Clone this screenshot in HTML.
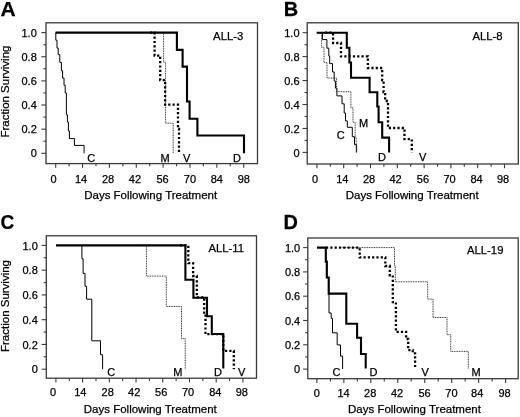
<!DOCTYPE html>
<html><head><meta charset="utf-8"><style>
html,body{margin:0;padding:0;background:#fff;}
svg{display:block;filter:blur(0.35px);}
text{font-family:"Liberation Sans", sans-serif;fill:#000;stroke:#000;stroke-width:0.25px;}
.t{font-size:11px;}
.ax{font-size:11.5px;}
.ay{font-size:11.5px;}
.pl{font-size:21px;font-weight:bold;fill:#000;}
.cl{font-size:11.3px;}
.cv{font-size:11px;}
</style></head><body>
<svg width="520" height="417" viewBox="0 0 520 417">
<rect width="520" height="417" fill="#fff"/>
<rect x="46" y="22.8" width="211.50" height="140.80" fill="none" stroke="#3a3a3a" stroke-width="1.3"/>
<line x1="41.30" y1="153.30" x2="46" y2="153.30" stroke="#3a3a3a" stroke-width="1.1"/>
<line x1="43.40" y1="141.23" x2="46" y2="141.23" stroke="#3a3a3a" stroke-width="1.1"/>
<line x1="41.30" y1="129.16" x2="46" y2="129.16" stroke="#3a3a3a" stroke-width="1.1"/>
<line x1="43.40" y1="117.09" x2="46" y2="117.09" stroke="#3a3a3a" stroke-width="1.1"/>
<line x1="41.30" y1="105.02" x2="46" y2="105.02" stroke="#3a3a3a" stroke-width="1.1"/>
<line x1="43.40" y1="92.95" x2="46" y2="92.95" stroke="#3a3a3a" stroke-width="1.1"/>
<line x1="41.30" y1="80.88" x2="46" y2="80.88" stroke="#3a3a3a" stroke-width="1.1"/>
<line x1="43.40" y1="68.81" x2="46" y2="68.81" stroke="#3a3a3a" stroke-width="1.1"/>
<line x1="41.30" y1="56.74" x2="46" y2="56.74" stroke="#3a3a3a" stroke-width="1.1"/>
<line x1="43.40" y1="44.67" x2="46" y2="44.67" stroke="#3a3a3a" stroke-width="1.1"/>
<line x1="41.30" y1="32.60" x2="46" y2="32.60" stroke="#3a3a3a" stroke-width="1.1"/>
<text x="36.80" y="157.40" text-anchor="end" class="t">0</text>
<text x="36.80" y="133.26" text-anchor="end" class="t">0.2</text>
<text x="36.80" y="109.12" text-anchor="end" class="t">0.4</text>
<text x="36.80" y="84.98" text-anchor="end" class="t">0.6</text>
<text x="36.80" y="60.84" text-anchor="end" class="t">0.8</text>
<text x="36.80" y="36.70" text-anchor="end" class="t">1.0</text>
<line x1="55.70" y1="163.6" x2="55.70" y2="167.80" stroke="#3a3a3a" stroke-width="1.1"/>
<line x1="69.13" y1="163.6" x2="69.13" y2="166.30" stroke="#3a3a3a" stroke-width="1.1"/>
<line x1="82.56" y1="163.6" x2="82.56" y2="167.80" stroke="#3a3a3a" stroke-width="1.1"/>
<line x1="95.99" y1="163.6" x2="95.99" y2="166.30" stroke="#3a3a3a" stroke-width="1.1"/>
<line x1="109.41" y1="163.6" x2="109.41" y2="167.80" stroke="#3a3a3a" stroke-width="1.1"/>
<line x1="122.84" y1="163.6" x2="122.84" y2="166.30" stroke="#3a3a3a" stroke-width="1.1"/>
<line x1="136.27" y1="163.6" x2="136.27" y2="167.80" stroke="#3a3a3a" stroke-width="1.1"/>
<line x1="149.70" y1="163.6" x2="149.70" y2="166.30" stroke="#3a3a3a" stroke-width="1.1"/>
<line x1="163.13" y1="163.6" x2="163.13" y2="167.80" stroke="#3a3a3a" stroke-width="1.1"/>
<line x1="176.56" y1="163.6" x2="176.56" y2="166.30" stroke="#3a3a3a" stroke-width="1.1"/>
<line x1="189.99" y1="163.6" x2="189.99" y2="167.80" stroke="#3a3a3a" stroke-width="1.1"/>
<line x1="203.41" y1="163.6" x2="203.41" y2="166.30" stroke="#3a3a3a" stroke-width="1.1"/>
<line x1="216.84" y1="163.6" x2="216.84" y2="167.80" stroke="#3a3a3a" stroke-width="1.1"/>
<line x1="230.27" y1="163.6" x2="230.27" y2="166.30" stroke="#3a3a3a" stroke-width="1.1"/>
<line x1="243.70" y1="163.6" x2="243.70" y2="167.80" stroke="#3a3a3a" stroke-width="1.1"/>
<text x="53.50" y="182.50" text-anchor="middle" class="t">0</text>
<text x="81.10" y="182.50" text-anchor="middle" class="t">14</text>
<text x="108.10" y="182.50" text-anchor="middle" class="t">28</text>
<text x="134.90" y="182.50" text-anchor="middle" class="t">42</text>
<text x="162.60" y="182.50" text-anchor="middle" class="t">56</text>
<text x="189.90" y="182.50" text-anchor="middle" class="t">70</text>
<text x="216.80" y="182.50" text-anchor="middle" class="t">84</text>
<text x="243.80" y="182.50" text-anchor="middle" class="t">98</text>
<text x="84.20" y="199.40" class="ax">Days Following Treatment</text>
<text transform="translate(9.40,91.60) rotate(-90)" x="0" y="0" text-anchor="middle" class="ay">Fraction Surviving</text>
<text transform="translate(0.5,15.9) scale(1.0,1)" class="pl">A</text>
<text x="213.1" y="40.0" class="cl">ALL-3</text>
<rect x="307.2" y="22.8" width="211.10" height="141.20" fill="none" stroke="#3a3a3a" stroke-width="1.3"/>
<line x1="302.50" y1="152.40" x2="307.2" y2="152.40" stroke="#3a3a3a" stroke-width="1.1"/>
<line x1="304.60" y1="140.43" x2="307.2" y2="140.43" stroke="#3a3a3a" stroke-width="1.1"/>
<line x1="302.50" y1="128.46" x2="307.2" y2="128.46" stroke="#3a3a3a" stroke-width="1.1"/>
<line x1="304.60" y1="116.49" x2="307.2" y2="116.49" stroke="#3a3a3a" stroke-width="1.1"/>
<line x1="302.50" y1="104.52" x2="307.2" y2="104.52" stroke="#3a3a3a" stroke-width="1.1"/>
<line x1="304.60" y1="92.55" x2="307.2" y2="92.55" stroke="#3a3a3a" stroke-width="1.1"/>
<line x1="302.50" y1="80.58" x2="307.2" y2="80.58" stroke="#3a3a3a" stroke-width="1.1"/>
<line x1="304.60" y1="68.61" x2="307.2" y2="68.61" stroke="#3a3a3a" stroke-width="1.1"/>
<line x1="302.50" y1="56.64" x2="307.2" y2="56.64" stroke="#3a3a3a" stroke-width="1.1"/>
<line x1="304.60" y1="44.67" x2="307.2" y2="44.67" stroke="#3a3a3a" stroke-width="1.1"/>
<line x1="302.50" y1="32.70" x2="307.2" y2="32.70" stroke="#3a3a3a" stroke-width="1.1"/>
<text x="299.50" y="156.50" text-anchor="end" class="t">0</text>
<text x="299.50" y="132.56" text-anchor="end" class="t">0.2</text>
<text x="299.50" y="108.62" text-anchor="end" class="t">0.4</text>
<text x="299.50" y="84.68" text-anchor="end" class="t">0.6</text>
<text x="299.50" y="60.74" text-anchor="end" class="t">0.8</text>
<text x="299.50" y="36.80" text-anchor="end" class="t">1.0</text>
<line x1="316.90" y1="164.0" x2="316.90" y2="168.20" stroke="#3a3a3a" stroke-width="1.1"/>
<line x1="330.30" y1="164.0" x2="330.30" y2="166.70" stroke="#3a3a3a" stroke-width="1.1"/>
<line x1="343.70" y1="164.0" x2="343.70" y2="168.20" stroke="#3a3a3a" stroke-width="1.1"/>
<line x1="357.10" y1="164.0" x2="357.10" y2="166.70" stroke="#3a3a3a" stroke-width="1.1"/>
<line x1="370.50" y1="164.0" x2="370.50" y2="168.20" stroke="#3a3a3a" stroke-width="1.1"/>
<line x1="383.90" y1="164.0" x2="383.90" y2="166.70" stroke="#3a3a3a" stroke-width="1.1"/>
<line x1="397.30" y1="164.0" x2="397.30" y2="168.20" stroke="#3a3a3a" stroke-width="1.1"/>
<line x1="410.70" y1="164.0" x2="410.70" y2="166.70" stroke="#3a3a3a" stroke-width="1.1"/>
<line x1="424.10" y1="164.0" x2="424.10" y2="168.20" stroke="#3a3a3a" stroke-width="1.1"/>
<line x1="437.50" y1="164.0" x2="437.50" y2="166.70" stroke="#3a3a3a" stroke-width="1.1"/>
<line x1="450.90" y1="164.0" x2="450.90" y2="168.20" stroke="#3a3a3a" stroke-width="1.1"/>
<line x1="464.30" y1="164.0" x2="464.30" y2="166.70" stroke="#3a3a3a" stroke-width="1.1"/>
<line x1="477.70" y1="164.0" x2="477.70" y2="168.20" stroke="#3a3a3a" stroke-width="1.1"/>
<line x1="491.10" y1="164.0" x2="491.10" y2="166.70" stroke="#3a3a3a" stroke-width="1.1"/>
<line x1="504.50" y1="164.0" x2="504.50" y2="168.20" stroke="#3a3a3a" stroke-width="1.1"/>
<text x="315.00" y="182.50" text-anchor="middle" class="t">0</text>
<text x="342.30" y="182.50" text-anchor="middle" class="t">14</text>
<text x="369.10" y="182.50" text-anchor="middle" class="t">28</text>
<text x="395.50" y="182.50" text-anchor="middle" class="t">42</text>
<text x="422.90" y="182.50" text-anchor="middle" class="t">56</text>
<text x="449.60" y="182.50" text-anchor="middle" class="t">70</text>
<text x="476.50" y="182.50" text-anchor="middle" class="t">84</text>
<text x="503.00" y="182.50" text-anchor="middle" class="t">98</text>
<text x="345.70" y="199.40" class="ax">Days Following Treatment</text>
<text transform="translate(283.8,16.0) scale(0.95,1)" class="pl">B</text>
<text x="472.5" y="40.0" class="cl">ALL-8</text>
<rect x="46.3" y="235.8" width="210.20" height="142.40" fill="none" stroke="#3a3a3a" stroke-width="1.3"/>
<line x1="41.60" y1="369.20" x2="46.3" y2="369.20" stroke="#3a3a3a" stroke-width="1.1"/>
<line x1="43.70" y1="356.82" x2="46.3" y2="356.82" stroke="#3a3a3a" stroke-width="1.1"/>
<line x1="41.60" y1="344.44" x2="46.3" y2="344.44" stroke="#3a3a3a" stroke-width="1.1"/>
<line x1="43.70" y1="332.06" x2="46.3" y2="332.06" stroke="#3a3a3a" stroke-width="1.1"/>
<line x1="41.60" y1="319.68" x2="46.3" y2="319.68" stroke="#3a3a3a" stroke-width="1.1"/>
<line x1="43.70" y1="307.30" x2="46.3" y2="307.30" stroke="#3a3a3a" stroke-width="1.1"/>
<line x1="41.60" y1="294.92" x2="46.3" y2="294.92" stroke="#3a3a3a" stroke-width="1.1"/>
<line x1="43.70" y1="282.54" x2="46.3" y2="282.54" stroke="#3a3a3a" stroke-width="1.1"/>
<line x1="41.60" y1="270.16" x2="46.3" y2="270.16" stroke="#3a3a3a" stroke-width="1.1"/>
<line x1="43.70" y1="257.78" x2="46.3" y2="257.78" stroke="#3a3a3a" stroke-width="1.1"/>
<line x1="41.60" y1="245.40" x2="46.3" y2="245.40" stroke="#3a3a3a" stroke-width="1.1"/>
<text x="37.80" y="373.30" text-anchor="end" class="t">0</text>
<text x="37.80" y="348.54" text-anchor="end" class="t">0.2</text>
<text x="37.80" y="323.78" text-anchor="end" class="t">0.4</text>
<text x="37.80" y="299.02" text-anchor="end" class="t">0.6</text>
<text x="37.80" y="274.26" text-anchor="end" class="t">0.8</text>
<text x="37.80" y="249.50" text-anchor="end" class="t">1.0</text>
<line x1="55.90" y1="378.2" x2="55.90" y2="382.40" stroke="#3a3a3a" stroke-width="1.1"/>
<line x1="69.26" y1="378.2" x2="69.26" y2="380.90" stroke="#3a3a3a" stroke-width="1.1"/>
<line x1="82.61" y1="378.2" x2="82.61" y2="382.40" stroke="#3a3a3a" stroke-width="1.1"/>
<line x1="95.97" y1="378.2" x2="95.97" y2="380.90" stroke="#3a3a3a" stroke-width="1.1"/>
<line x1="109.33" y1="378.2" x2="109.33" y2="382.40" stroke="#3a3a3a" stroke-width="1.1"/>
<line x1="122.69" y1="378.2" x2="122.69" y2="380.90" stroke="#3a3a3a" stroke-width="1.1"/>
<line x1="136.04" y1="378.2" x2="136.04" y2="382.40" stroke="#3a3a3a" stroke-width="1.1"/>
<line x1="149.40" y1="378.2" x2="149.40" y2="380.90" stroke="#3a3a3a" stroke-width="1.1"/>
<line x1="162.76" y1="378.2" x2="162.76" y2="382.40" stroke="#3a3a3a" stroke-width="1.1"/>
<line x1="176.11" y1="378.2" x2="176.11" y2="380.90" stroke="#3a3a3a" stroke-width="1.1"/>
<line x1="189.47" y1="378.2" x2="189.47" y2="382.40" stroke="#3a3a3a" stroke-width="1.1"/>
<line x1="202.83" y1="378.2" x2="202.83" y2="380.90" stroke="#3a3a3a" stroke-width="1.1"/>
<line x1="216.19" y1="378.2" x2="216.19" y2="382.40" stroke="#3a3a3a" stroke-width="1.1"/>
<line x1="229.54" y1="378.2" x2="229.54" y2="380.90" stroke="#3a3a3a" stroke-width="1.1"/>
<line x1="242.90" y1="378.2" x2="242.90" y2="382.40" stroke="#3a3a3a" stroke-width="1.1"/>
<text x="53.10" y="396.30" text-anchor="middle" class="t">0</text>
<text x="80.30" y="396.30" text-anchor="middle" class="t">14</text>
<text x="107.70" y="396.30" text-anchor="middle" class="t">28</text>
<text x="134.20" y="396.30" text-anchor="middle" class="t">42</text>
<text x="161.20" y="396.30" text-anchor="middle" class="t">56</text>
<text x="188.10" y="396.30" text-anchor="middle" class="t">70</text>
<text x="215.30" y="396.30" text-anchor="middle" class="t">84</text>
<text x="241.85" y="396.30" text-anchor="middle" class="t">98</text>
<text x="83.80" y="412.90" class="ax">Days Following Treatment</text>
<text transform="translate(9.40,306.00) rotate(-90)" x="0" y="0" text-anchor="middle" class="ay">Fraction Surviving</text>
<text transform="translate(0.4,228.7) scale(0.91,1)" class="pl">C</text>
<text x="208.5" y="251.9" class="cl">ALL-11</text>
<rect x="307.8" y="238.0" width="210.40" height="140.70" fill="none" stroke="#3a3a3a" stroke-width="1.3"/>
<line x1="303.10" y1="369.10" x2="307.8" y2="369.10" stroke="#3a3a3a" stroke-width="1.1"/>
<line x1="305.20" y1="356.95" x2="307.8" y2="356.95" stroke="#3a3a3a" stroke-width="1.1"/>
<line x1="303.10" y1="344.80" x2="307.8" y2="344.80" stroke="#3a3a3a" stroke-width="1.1"/>
<line x1="305.20" y1="332.65" x2="307.8" y2="332.65" stroke="#3a3a3a" stroke-width="1.1"/>
<line x1="303.10" y1="320.50" x2="307.8" y2="320.50" stroke="#3a3a3a" stroke-width="1.1"/>
<line x1="305.20" y1="308.35" x2="307.8" y2="308.35" stroke="#3a3a3a" stroke-width="1.1"/>
<line x1="303.10" y1="296.20" x2="307.8" y2="296.20" stroke="#3a3a3a" stroke-width="1.1"/>
<line x1="305.20" y1="284.05" x2="307.8" y2="284.05" stroke="#3a3a3a" stroke-width="1.1"/>
<line x1="303.10" y1="271.90" x2="307.8" y2="271.90" stroke="#3a3a3a" stroke-width="1.1"/>
<line x1="305.20" y1="259.75" x2="307.8" y2="259.75" stroke="#3a3a3a" stroke-width="1.1"/>
<line x1="303.10" y1="247.60" x2="307.8" y2="247.60" stroke="#3a3a3a" stroke-width="1.1"/>
<text x="300.20" y="373.20" text-anchor="end" class="t">0</text>
<text x="300.20" y="348.90" text-anchor="end" class="t">0.2</text>
<text x="300.20" y="324.60" text-anchor="end" class="t">0.4</text>
<text x="300.20" y="300.30" text-anchor="end" class="t">0.6</text>
<text x="300.20" y="276.00" text-anchor="end" class="t">0.8</text>
<text x="300.20" y="251.70" text-anchor="end" class="t">1.0</text>
<line x1="316.90" y1="378.7" x2="316.90" y2="382.90" stroke="#3a3a3a" stroke-width="1.1"/>
<line x1="330.38" y1="378.7" x2="330.38" y2="381.40" stroke="#3a3a3a" stroke-width="1.1"/>
<line x1="343.86" y1="378.7" x2="343.86" y2="382.90" stroke="#3a3a3a" stroke-width="1.1"/>
<line x1="357.34" y1="378.7" x2="357.34" y2="381.40" stroke="#3a3a3a" stroke-width="1.1"/>
<line x1="370.81" y1="378.7" x2="370.81" y2="382.90" stroke="#3a3a3a" stroke-width="1.1"/>
<line x1="384.29" y1="378.7" x2="384.29" y2="381.40" stroke="#3a3a3a" stroke-width="1.1"/>
<line x1="397.77" y1="378.7" x2="397.77" y2="382.90" stroke="#3a3a3a" stroke-width="1.1"/>
<line x1="411.25" y1="378.7" x2="411.25" y2="381.40" stroke="#3a3a3a" stroke-width="1.1"/>
<line x1="424.73" y1="378.7" x2="424.73" y2="382.90" stroke="#3a3a3a" stroke-width="1.1"/>
<line x1="438.21" y1="378.7" x2="438.21" y2="381.40" stroke="#3a3a3a" stroke-width="1.1"/>
<line x1="451.69" y1="378.7" x2="451.69" y2="382.90" stroke="#3a3a3a" stroke-width="1.1"/>
<line x1="465.16" y1="378.7" x2="465.16" y2="381.40" stroke="#3a3a3a" stroke-width="1.1"/>
<line x1="478.64" y1="378.7" x2="478.64" y2="382.90" stroke="#3a3a3a" stroke-width="1.1"/>
<line x1="492.12" y1="378.7" x2="492.12" y2="381.40" stroke="#3a3a3a" stroke-width="1.1"/>
<line x1="505.60" y1="378.7" x2="505.60" y2="382.90" stroke="#3a3a3a" stroke-width="1.1"/>
<text x="316.90" y="396.50" text-anchor="middle" class="t">0</text>
<text x="343.60" y="396.50" text-anchor="middle" class="t">14</text>
<text x="370.20" y="396.50" text-anchor="middle" class="t">28</text>
<text x="397.00" y="396.50" text-anchor="middle" class="t">42</text>
<text x="424.60" y="396.50" text-anchor="middle" class="t">56</text>
<text x="451.40" y="396.50" text-anchor="middle" class="t">70</text>
<text x="477.20" y="396.50" text-anchor="middle" class="t">84</text>
<text x="504.50" y="396.50" text-anchor="middle" class="t">98</text>
<text x="348.00" y="413.00" class="ax">Days Following Treatment</text>
<text transform="translate(283.5,228.8) scale(0.95,1)" class="pl">D</text>
<text x="467.0" y="254.0" class="cl">ALL-19</text>
<path d="M55.8,32.6 V40.2 H57 V48 H58.2 V54.6 H59.8 V62.4 H61.4 V70.8 H62.6 V78 H64 V85.2 H65.2 V93 H66.4 V114.8 H67.4 V122 H68.4 V131 H69.4 V138.6 H74.4 V145.4 H84.1 V153.3" fill="none" stroke="#000" stroke-width="1" stroke-linejoin="miter"/>
<path d="M155,32.6 H163.6 V62.2 H165.6 V123.2 H173.2 V153.3" fill="none" stroke="#333" stroke-width="1" stroke-dasharray="1 0.7"/>
<path d="M150,32.6 H154.6 V55.6 H160.2 V80.1 H165.1 V104.7 H178 V129 H179 V152" fill="none" stroke="#000" stroke-width="2.3" stroke-dasharray="2.2 2.1"/>
<path d="M55.6,32.6 H176.9 V49.9 H182.6 V66.6 H187 V101.5 H189.6 V118.8 H197.4 V135.5 H244 V153.3" fill="none" stroke="#000" stroke-width="2.1" stroke-linejoin="miter"/>
<path d="M316.8,32.7 H322.4 V39.6 H326.9 V48.2 H328.8 V56 H329.7 V63.6 H332.5 V72 H334.2 V81 H335.4 V88.1 H336.9 V95.9 H342 V103.8 H344.2 V113 H345.5 V120.9 H347.3 V127.3 H352.3 V136.7 H354.5 V144.6 H356.6 V152.4" fill="none" stroke="#000" stroke-width="1" stroke-linejoin="miter"/>
<path d="M316.8,32.7 H321.6 V47.3 H324 V62.6 H327 V78 H336.6 V91.7 H350.9 V107.9 H353 V122.3 H355.2 V137 H356.2 V152.4" fill="none" stroke="#333" stroke-width="1" stroke-dasharray="1 0.7"/>
<path d="M325,32.7 H333.1 V43 H341 V56.4 H367.9 V68 H382.2 V80 H383.6 V92 H385.1 V101 H388 V128 H404.5 V139.2 H411.8 V152.4" fill="none" stroke="#000" stroke-width="2.3" stroke-dasharray="2.2 2.1"/>
<path d="M316.8,32.7 H346.8 V47.8 H349.4 V62.5 H351 V77.8 H369.6 V92.2 H377.3 V106.5 H378.6 V122.3 H382.2 V137.6 H389.1 V152.4" fill="none" stroke="#000" stroke-width="2.1" stroke-linejoin="miter"/>
<path d="M81.9,245.4 V258.7 H83.1 V273.3 H85 V286.3 H86.6 V299.2 H91.8 V340.8 H100.5 V354.7 H102.6 V369.2" fill="none" stroke="#000" stroke-width="1" stroke-linejoin="miter"/>
<path d="M140,245.4 H146.4 V276.1 H166.3 V306.5 H181.5 V338.6 H185.2 V369.2" fill="none" stroke="#333" stroke-width="1" stroke-dasharray="1 0.7"/>
<path d="M180,245.4 H188.3 V263.1 H193.1 V276 H196.8 V297.4 H204.2 V314.2 H205.5 V334.2 H223.3 V350.9 H233.8 V369.2" fill="none" stroke="#000" stroke-width="2.3" stroke-dasharray="2.2 2.1"/>
<path d="M56,245.4 H185.4 V279.8 H193.4 V297.8 H207 V316.2 H211.8 V334 H223.3 V368.5" fill="none" stroke="#000" stroke-width="2.1" stroke-linejoin="miter"/>
<path d="M325.8,247.6 V261.6 H326.8 V277.5 H328.7 V293.6 H329 V313 H331.2 V318.4 H332.5 V332.8 H337.2 V344.9 H340.5 V356.1 H342.6 V369.1" fill="none" stroke="#000" stroke-width="1" stroke-linejoin="miter"/>
<path d="M340,247.6 H394.5 V266 H395.3 V281.8 H427.7 V299.1 H433 V317.5 H447 V334.7 H450.7 V351.4 H468.3 V369" fill="none" stroke="#333" stroke-width="1" stroke-dasharray="1 0.7"/>
<path d="M326,247.6 H359.7 V257.4 H385.3 V266 H389.8 V275.3 H392.8 V302.2 H395.9 V331.8 H406.1 V339 H408.2 V350.2 H412.7 V353.3 H415.1 V369" fill="none" stroke="#000" stroke-width="2.3" stroke-dasharray="2.2 2.1"/>
<path d="M317,247.6 H325.8 V261.6 H326.8 V277.5 H328.7 V293.6 H346.3 V323.8 H357.1 V337.8 H361 V354 H365.7 V368.5" fill="none" stroke="#000" stroke-width="2.1" stroke-linejoin="miter"/>
<text x="87.3" y="161.9" class="cv">C</text>
<text x="160.5" y="162.1" class="cv">M</text>
<text x="183.1" y="162.1" class="cv">V</text>
<text x="233.0" y="161.9" class="cv">D</text>
<text x="336.8" y="138.5" class="cv">C</text>
<text x="359.0" y="126.6" class="cv">M</text>
<text x="378.0" y="160.6" class="cv">D</text>
<text x="419.0" y="160.6" class="cv">V</text>
<text x="107.3" y="376.0" class="cv">C</text>
<text x="173.2" y="375.9" class="cv">M</text>
<text x="214.0" y="375.8" class="cv">D</text>
<text x="238.1" y="375.8" class="cv">V</text>
<text x="332.5" y="375.8" class="cv">C</text>
<text x="369.4" y="375.8" class="cv">D</text>
<text x="421.6" y="376.0" class="cv">V</text>
<text x="471.4" y="376.0" class="cv">M</text>
</svg>
</body></html>
